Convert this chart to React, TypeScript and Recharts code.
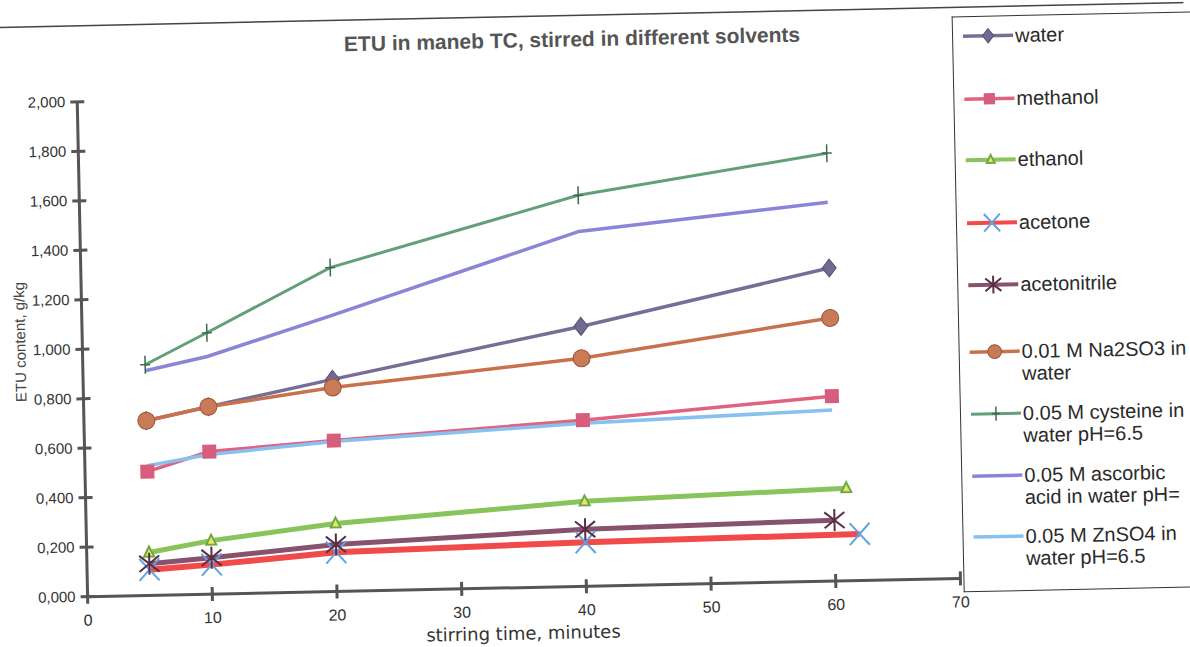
import { Line, LineChart, XAxis, YAxis } from "recharts";

const timeMinutes = [5, 10, 20, 40, 60];
const ethanolMinutes = [5, 10, 20, 40, 61];
const acetoneMinutes = [5, 10, 20, 40, 62];

// ETU content, g/kg
const water = [0.706, 0.757, 0.857, 1.05, 1.265];
const methanol = [0.5, 0.576, 0.61, 0.671, 0.747];
const ethanol = [0.173, 0.216, 0.275, 0.343, 0.374];
const acetone = [0.104, 0.119, 0.158, 0.178, 0.188];
const acetonitrile = [0.128, 0.147, 0.19, 0.23, 0.246];
const sodiumSulfite = [0.706, 0.757, 0.824, 0.921, 1.063];
const cysteine = [0.932, 1.056, 1.309, 1.58, 1.729];
const ascorbicAcid = [0.908, 0.96, 1.115, 1.434, 1.531];
const zincSulfate = [0.524, 0.564, 0.606, 0.659, 0.691];

const xTicks = [0, 10, 20, 30, 40, 50, 60, 70];
const yTicks = [0, 0.2, 0.4, 0.6, 0.8, 1, 1.2, 1.4, 1.6, 1.8, 2];

type MarkerKind = "diamond" | "square" | "triangle" | "cross" | "star" | "circle" | "plus" | "none";

type Series = {
  key: string;
  label: string[];
  times: number[];
  values: number[];
  color: string;
  width: number;
  marker: MarkerKind;
};

const series: Series[] = [
  { key: "water", label: ["water"], times: timeMinutes, values: water, color: "#776e98", width: 3.5, marker: "diamond" },
  { key: "methanol", label: ["methanol"], times: timeMinutes, values: methanol, color: "#e0627f", width: 3.5, marker: "square" },
  { key: "ethanol", label: ["ethanol"], times: ethanolMinutes, values: ethanol, color: "#88c35c", width: 5, marker: "triangle" },
  { key: "acetone", label: ["acetone"], times: acetoneMinutes, values: acetone, color: "#f24a4a", width: 6, marker: "cross" },
  { key: "acetonitrile", label: ["acetonitrile"], times: timeMinutes, values: acetonitrile, color: "#87526d", width: 5, marker: "star" },
  { key: "na2so3", label: ["0.01 M Na2SO3 in", "water"], times: timeMinutes, values: sodiumSulfite, color: "#c8714d", width: 3.5, marker: "circle" },
  { key: "cysteine", label: ["0.05 M cysteine in", "water pH=6.5"], times: timeMinutes, values: cysteine, color: "#62a079", width: 3, marker: "plus" },
  { key: "ascorbic", label: ["0.05 M ascorbic", "acid in water pH="], times: timeMinutes, values: ascorbicAcid, color: "#8a85d8", width: 3.5, marker: "none" },
  { key: "znso4", label: ["0.05 M ZnSO4 in", "water pH=6.5"], times: timeMinutes, values: zincSulfate, color: "#88c0f0", width: 3.5, marker: "none" },
];

const legendTops = [43, 106, 167, 230, 292, 359, 421, 483, 544];

const FONT = "'Liberation Sans', Arial, sans-serif";
const NARROW = "'DejaVu Sans', sans-serif";
const AXIS = "#555";

const Marker = ({ kind, cx, cy, s = 1 }: { kind: MarkerKind; cx: number; cy: number; s?: number }) => {
  switch (kind) {
    case "diamond":
      return (
        <polygon
          points={`${cx},${cy - 9 * s} ${cx + 7 * s},${cy} ${cx},${cy + 9 * s} ${cx - 7 * s},${cy}`}
          fill="#736a93"
          stroke="#564f72"
        />
      );
    case "square":
      return <rect x={cx - 7 * s} y={cy - 7 * s} width={14 * s} height={14 * s} fill="#d65d7c" />;
    case "triangle":
      return (
        <polygon
          points={`${cx},${cy - 6 * s} ${cx + 5 * s},${cy + 4 * s} ${cx - 5 * s},${cy + 4 * s}`}
          fill="#e8e46c"
          stroke="#6ea843"
          strokeWidth={2}
        />
      );
    case "cross":
      return (
        <g stroke="#5ea3e0" strokeWidth={2}>
          <line x1={cx - 10 * s} y1={cy - 11 * s} x2={cx + 10 * s} y2={cy + 11 * s} />
          <line x1={cx + 10 * s} y1={cy - 11 * s} x2={cx - 10 * s} y2={cy + 11 * s} />
        </g>
      );
    case "star":
      return (
        <g stroke="#5a2e45" strokeWidth={2}>
          <line x1={cx} y1={cy - 11 * s} x2={cx} y2={cy + 11 * s} />
          <line x1={cx - 10 * s} y1={cy - 8 * s} x2={cx + 10 * s} y2={cy + 8 * s} />
          <line x1={cx + 10 * s} y1={cy - 8 * s} x2={cx - 10 * s} y2={cy + 8 * s} />
        </g>
      );
    case "circle":
      return <circle cx={cx} cy={cy} r={8.5 * s} fill="#c97a56" stroke="#99553a" />;
    case "plus":
      return (
        <g stroke="#3d6a52" strokeWidth={1.5}>
          <line x1={cx} y1={cy - 9 * s} x2={cx} y2={cy + 9 * s} />
          <line x1={cx - 5 * s} y1={cy} x2={cx + 5 * s} y2={cy} />
        </g>
      );
    default:
      return null;
  }
};

const formatY = (v: number) => v.toFixed(3).replace(".", ",");

const YTick = ({ x, y, payload }: any) => (
  <g>
    <line x1={x - 7} x2={x + 7} y1={y} y2={y} stroke={AXIS} strokeWidth={3} />
    <text x={x - 12} y={y} dy={5} textAnchor="end" fontSize={15} fill="#333" fontFamily={FONT}>
      {formatY(payload.value)}
    </text>
  </g>
);

const XTick = ({ x, y, payload }: any) => (
  <g>
    <line x1={x} x2={x} y1={y - 7} y2={y + 7} stroke={AXIS} strokeWidth={3} />
    <text x={x} y={y + 29} textAnchor="middle" fontSize={16} fill="#333" fontFamily={FONT}>
      {payload.value}
    </text>
  </g>
);

const Legend = () => (
  <div
    style={{
      position: "absolute",
      left: 958,
      top: 24,
      width: 300,
      height: 574,
      borderLeft: "1.5px solid #333",
      borderTop: "1.5px solid #333",
      borderBottom: "1.5px solid #333",
      background: "#fff",
      fontFamily: FONT,
      fontSize: 20,
      color: "#2a2a2a",
    }}
  >
    {series.map((s, i) => (
      <div key={s.key} style={{ position: "absolute", left: 0, top: legendTops[i] - 24 - 11, width: 300 }}>
        <svg width={54} height={22} style={{ position: "absolute", left: 8, top: 0 }}>
          <line x1={2} x2={52} y1={11} y2={11} stroke={s.color} strokeWidth={Math.min(s.width, 4)} />
          <Marker kind={s.marker} cx={27} cy={11} s={0.8} />
        </svg>
        <div style={{ position: "absolute", left: 62, top: 0, lineHeight: "22px", whiteSpace: "nowrap" }}>
          {s.label.map((l) => (
            <div key={l}>{l}</div>
          ))}
        </div>
      </div>
    ))}
  </div>
);

export default function App() {
  return (
    <div style={{ position: "relative", width: 1190, height: 647, overflow: "hidden", background: "#fff" }}>
      <style>{`body{margin:0}`}</style>
      <div
        style={{
          position: "absolute",
          left: 0,
          top: 0,
          width: 1190,
          height: 647,
          transform: "rotate(-1.2deg)",
          transformOrigin: "595px 323.5px",
        }}
      >
        <LineChart width={1190} height={647} margin={{ top: 91, right: 235, bottom: 0, left: 0 }}>
          <XAxis
            type="number"
            dataKey="t"
            domain={[0, 70]}
            ticks={xTicks}
            interval={0}
            height={61}
            tickSize={0}
            tickMargin={0}
            tick={<XTick />}
            axisLine={{ stroke: AXIS, strokeWidth: 3 }}
          />
          <YAxis
            type="number"
            domain={[0, 2]}
            ticks={yTicks}
            interval={0}
            width={82}
            tickSize={0}
            tickMargin={0}
            tick={<YTick />}
            axisLine={{ stroke: AXIS, strokeWidth: 3 }}
          />
          {series.map((s) => (
            <Line
              key={s.key}
              data={s.times.map((t, i) => ({ t, v: s.values[i] }))}
              dataKey="v"
              name={s.label.join(" ")}
              type="linear"
              stroke={s.color}
              strokeWidth={s.width}
              isAnimationActive={false}
              dot={
                s.marker === "none"
                  ? false
                  : (p: any) => (
                      <g key={`${s.key}-${p.index}`}>
                        <Marker kind={s.marker} cx={p.cx} cy={p.cy} />
                      </g>
                    )
              }
              activeDot={false}
            />
          ))}
        </LineChart>
        <svg width={1190} height={647} style={{ position: "absolute", left: 0, top: 0, pointerEvents: "none" }}>
          <line x1={-40} x2={1240} y1={15} y2={15} stroke="#444" strokeWidth={1.5} />
          <text x={578} y={46} textAnchor="middle" fontSize={21} fontWeight="bold" fill="#555" fontFamily={FONT}>
            ETU in maneb TC, stirred in different solvents
          </text>
          <text
            transform="translate(25,330) rotate(-90)"
            textAnchor="middle"
            fontSize={15}
            fill="#444"
            fontFamily={FONT}
          >
            ETU content, g/kg
          </text>
          <text x={517} y={638} textAnchor="middle" fontSize={18} fontWeight={500} fill="#333" fontFamily={NARROW}>
            stirring time, minutes
          </text>
        </svg>
        <Legend />
      </div>
    </div>
  );
}
